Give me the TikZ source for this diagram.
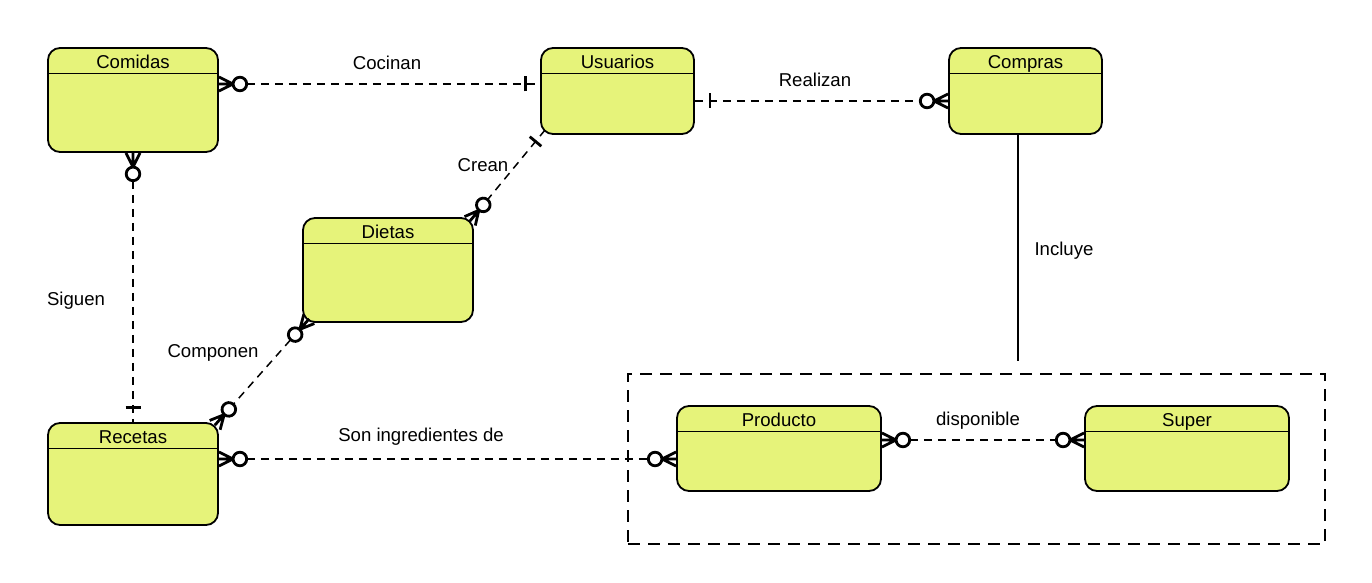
\documentclass[tikz,border=0pt]{standalone}
\usepackage{fontspec}
\setmainfont{Liberation Sans}
\usetikzlibrary{calc}
\definecolor{entfill}{RGB}{230,243,122}
\newcommand\myent[6]{%
  \node[entity, minimum width=#4, minimum height=#5] (#1) at (#2,#3) {};
  \draw[line width=0.55pt] ([yshift=-13.25pt]#1.north west) -- ([yshift=-13.25pt]#1.north east);
  \node[ttl] (#1t) at ([yshift=-10.9pt]#1.north) {#6};}
\begin{document}
\begin{tikzpicture}[x=0.5pt,y=-0.5pt,
  font=\fontsize{9.3}{11}\selectfont,
  entity/.style={draw, line width=0.9pt, fill=entfill, rounded corners=6pt, inner sep=0pt},
  ttl/.style={inner sep=0pt, anchor=base},
  rel/.style={line width=0.75pt, dash pattern=on 4pt off 3pt},
  grp/.style={draw, line width=0.75pt, dash pattern=on 6pt off 4pt, inner sep=0pt},
  mk/.style={line width=1.4pt},
  lbl/.style={inner sep=0pt},
  crowzero/.pic={\draw[mk] (0,7) -- (14,0) -- (0,-7) (0,0) -- (14,0);
                 \draw[mk, fill=white] (21,0) circle[radius=3.4pt];},
  onebar/.pic={\draw[mk] (15,-7.5) -- (15,7.5);}
]
\useasboundingbox (0,0) rectangle (1372,583);

% group frame
\node[grp, minimum width=348.5pt, minimum height=85pt] (grupo) at (976.5,459) {};

% entities
\myent{comidas}{133}{100}{85pt}{52pt}{Comidas}
\myent{usuarios}{617.5}{91}{76.5pt}{43pt}{Usuarios}
\myent{compras}{1025.5}{91}{76.5pt}{43pt}{Compras}
\myent{dietas}{388}{270}{85pt}{52pt}{Dietas}
\myent{recetas}{133}{474}{85pt}{51pt}{Recetas}
\myent{producto}{779}{448.5}{102pt}{42.5pt}{Producto}
\myent{super}{1187}{448.5}{102pt}{42.5pt}{Super}

% connection points
\coordinate (cA) at ([yshift=8pt]comidas.east);
\coordinate (cB) at ([yshift=3.5pt]usuarios.west);
\coordinate (rA) at ([yshift=-5pt]usuarios.east);
\coordinate (rB) at ([yshift=-5pt]compras.west);
\coordinate (crA) at ([xshift=2.5pt,yshift=2.5pt]usuarios.south west);
\coordinate (crB) at ([xshift=-2pt,yshift=-2pt]dietas.north east);
\coordinate (coA) at ([xshift=3.5pt,yshift=2pt]dietas.south west);
\coordinate (coB) at ([xshift=-2pt,yshift=-1.5pt]recetas.north east);
\coordinate (sA) at ([yshift=7.5pt]recetas.east);
\coordinate (sB) at ([yshift=-5.25pt]producto.west);
\coordinate (dA) at ([yshift=4.25pt]producto.east);
\coordinate (dB) at ([yshift=4.25pt]super.west);
\coordinate (iA) at ([xshift=-3.75pt]compras.south);
\coordinate (iB) at (1018,361);

% connectors
\draw[rel] (cA) -- (cB);
\draw[rel] (rA) -- (rB);
\draw[rel] (crA) -- (crB);
\draw[rel] (comidas.south) -- (recetas.north);
\draw[rel] (coA) -- (coB);
\draw[rel] (sA) -- (sB);
\draw[rel] (dA) -- (dB);
\draw[line width=0.75pt] (iA) -- (iB);

% end marks
\pic[rotate=0] at (cA) {crowzero};
\pic[rotate=180] at (cB) {onebar};
\pic[rotate=0] at (rA) {onebar};
\pic[rotate=180] at (rB) {crowzero};
\pic[rotate=230.4] at (crA) {onebar};
\pic[rotate=50.4] at (crB) {crowzero};
\pic[rotate=-90] at (comidas.south) {crowzero};
\pic[rotate=90] at (recetas.north) {onebar};
\pic[rotate=228.4] at (coA) {crowzero};
\pic[rotate=48.4] at (coB) {crowzero};
\pic[rotate=0] at (sA) {crowzero};
\pic[rotate=180] at (sB) {crowzero};
\pic[rotate=0] at (dA) {crowzero};
\pic[rotate=180] at (dB) {crowzero};

% labels
\node[lbl] (lcocinan) at (387,63) {Cocinan};
\node[lbl] (lrealizan) at (815,80) {Realizan};
\node[lbl] (lcrean) at (483,165) {Crean};
\node[lbl] (lsiguen) at (76,301) {Siguen};
\node[lbl] (lcomponen) at (213,353) {Componen};
\node[lbl] (lson) at (421,437) {Son ingredientes de};
\node[lbl] (ldisp) at (978,421) {disponible};
\node[lbl] (lincl) at (1064,251) {Incluye};
\end{tikzpicture}
\end{document}
